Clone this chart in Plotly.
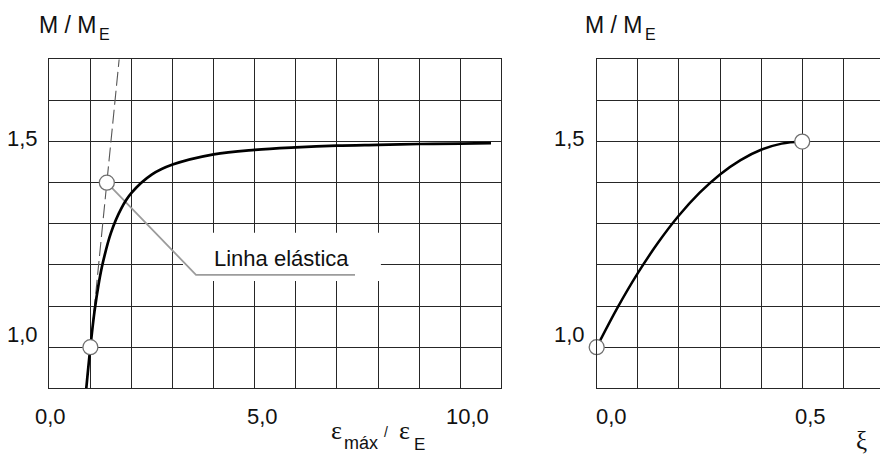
import plotly.graph_objects as go

# ---------------- data ----------------
# left panel: M/ME versus eps_max/eps_E
eps_ratio = [0.9, 1.0, 1.1, 1.2, 1.3, 1.5, 1.75, 2.0, 2.5, 3.0, 4.0, 5.0, 6.0, 7.0, 8.0, 9.0, 10.0, 10.75]
m_left = [0.9, 1.0, 1.087, 1.153, 1.204, 1.278, 1.337, 1.375, 1.42, 1.444, 1.469, 1.48, 1.486, 1.49, 1.492, 1.494, 1.495, 1.496]
elastic_x = [0.9, 1.7]
elastic_y = [0.9, 1.7]
left_pts_x = [1.0, 1.4]
left_pts_y = [1.0, 1.4]

# right panel: M/ME versus xi
xi = [0.0, 0.05, 0.1, 0.15, 0.2, 0.25, 0.3, 0.35, 0.4, 0.45, 0.5]
m_right = [1.0, 1.095, 1.18, 1.255, 1.32, 1.375, 1.42, 1.455, 1.48, 1.495, 1.5]
right_pts_x = [0.0, 0.5]
right_pts_y = [1.0, 1.5]

left_xtick_vals = [0, 5, 10]
left_xtick_text = ["0,0", "5,0", "10,0"]
right_xtick_vals = [0.0, 0.5]
right_xtick_text = ["0,0", "0,5"]
ytick_vals = [1.0, 1.5]
ytick_text = ["1,0", "1,5"]
callout_text = "Linha elástica"

# ---------------- layout helpers ----------------
W, H = 880, 457
def px(x):
    return x / W
def py(y):
    return 1 - y / H

FONT = "Liberation Sans, Arial, sans-serif"
SERIF = "Liberation Serif, Times New Roman, serif"
TXT = "#111111"
GRID = "#262626"
FS = 22

fig = go.Figure()

# callout line drawn under markers (as a trace)
fig.add_trace(go.Scatter(x=[left_pts_x[1], 3.57, 7.44], y=[left_pts_y[1], 1.176, 1.176],
                         mode="lines", line=dict(color="#9c9c9c", width=1.8),
                         xaxis="x", yaxis="y", hoverinfo="skip"))
fig.add_trace(go.Scatter(x=elastic_x, y=elastic_y, mode="lines",
                         line=dict(color="#555555", width=1.1, dash="14px,5px"),
                         xaxis="x", yaxis="y"))
fig.add_trace(go.Scatter(x=eps_ratio, y=m_left, mode="lines", line_shape="spline",
                         line=dict(color="#000000", width=2.7), xaxis="x", yaxis="y"))
fig.add_trace(go.Scatter(x=left_pts_x, y=left_pts_y, mode="markers",
                         marker=dict(size=15, color="white", line=dict(color="#707070", width=1.3)),
                         xaxis="x", yaxis="y", cliponaxis=False))

fig.add_trace(go.Scatter(x=xi, y=m_right, mode="lines", line_shape="spline",
                         line=dict(color="#000000", width=2.5), xaxis="x2", yaxis="y2"))
fig.add_trace(go.Scatter(x=right_pts_x, y=right_pts_y, mode="markers",
                         marker=dict(size=15, color="white", line=dict(color="#707070", width=1.3)),
                         xaxis="x2", yaxis="y2", cliponaxis=False))

ax_common = dict(showgrid=True, gridcolor=GRID, gridwidth=1.2, showline=True,
                 linecolor=GRID, linewidth=1.2, zeroline=False, showticklabels=False,
                 ticks="", fixedrange=True)

ydom = [py(388.3), py(59.3)]
fig.update_layout(
    width=W, height=H, margin=dict(l=0, r=0, t=0, b=0),
    paper_bgcolor="white", plot_bgcolor="white", showlegend=False,
    xaxis=dict(domain=[px(49.3), px(501.3)], range=[0, 11], dtick=1, tick0=0,
               mirror=True, anchor="y", **ax_common),
    yaxis=dict(domain=ydom, range=[0.9, 1.7], dtick=0.1, tick0=0.9,
               mirror=True, anchor="x", **ax_common),
    xaxis2=dict(domain=[px(596.7), 1.0], range=[0, (880 - 596.7) / 411.0], dtick=0.1, tick0=0,
                mirror=True, anchor="y2", **ax_common),
    yaxis2=dict(domain=ydom, range=[0.9, 1.7], dtick=0.1, tick0=0.9,
                mirror=False, anchor="x2", **ax_common),
)

# white box behind the callout label
fig.add_shape(type="rect", xref="x", yref="y", x0=3.254, x1=8.07, y0=1.161, y1=1.278,
              fillcolor="white", line=dict(width=0), layer="between")

def label(text, x, y, size=FS, xanchor="left", family=FONT, **kw):
    d = dict(x=x, y=y, text=text, showarrow=False, xanchor=xanchor, yanchor="middle",
             font=dict(family=family, size=size, color=TXT))
    d.update(kw)
    return d

ann = []
# x tick labels
for v, t, s in zip(left_xtick_vals, left_xtick_text, [1, 8, 7]):
    ann.append(label(t, v, py(416), xanchor="center", xref="x", yref="paper", xshift=s))
for v, t, s in zip(right_xtick_vals, right_xtick_text, [15, 8]):
    ann.append(label(t, v, py(416), xanchor="center", xref="x2", yref="paper", xshift=s))
# y tick labels
for v, t, s in zip(ytick_vals, ytick_text, [13, 3]):
    ann.append(label(t, px(40), v, xanchor="right", xref="paper", yref="y", yshift=s))
    ann.append(label(t, px(587), v, xanchor="right", xref="paper", yref="y2", yshift=s))
# axis titles  "M / M" + subscript E
for x0 in [37, 583]:
    ann.append(label("M / M", px(x0), py(25), size=23, xref="paper", yref="paper"))
    ann.append(label("E", px(x0 + 60), py(35), size=16, xref="paper", yref="paper"))
# bottom title  eps_max / eps_E
ann.append(label("ε", px(329), py(430), size=26, family=SERIF, xref="paper", yref="paper"))
ann.append(label("máx", px(342), py(443), size=18, xref="paper", yref="paper"))
ann.append(label("/", px(382), py(432), size=14, xref="paper", yref="paper"))
ann.append(label("ε", px(397), py(430), size=26, family=SERIF, xref="paper", yref="paper"))
ann.append(label("E", px(412), py(444), size=17, xref="paper", yref="paper"))
# xi
ann.append(label("ξ", px(861), py(440), size=25, xanchor="center", family=SERIF,
                 xref="paper", yref="paper"))
# callout label
ann.append(label(callout_text, px(281.5), py(258), xanchor="center", xref="paper", yref="paper"))
fig.update_layout(annotations=ann)

fig.write_html("out.html", config={"displayModeBar": False},
               post_script="document.body.style.margin='0px';document.body.style.overflow='hidden';")
